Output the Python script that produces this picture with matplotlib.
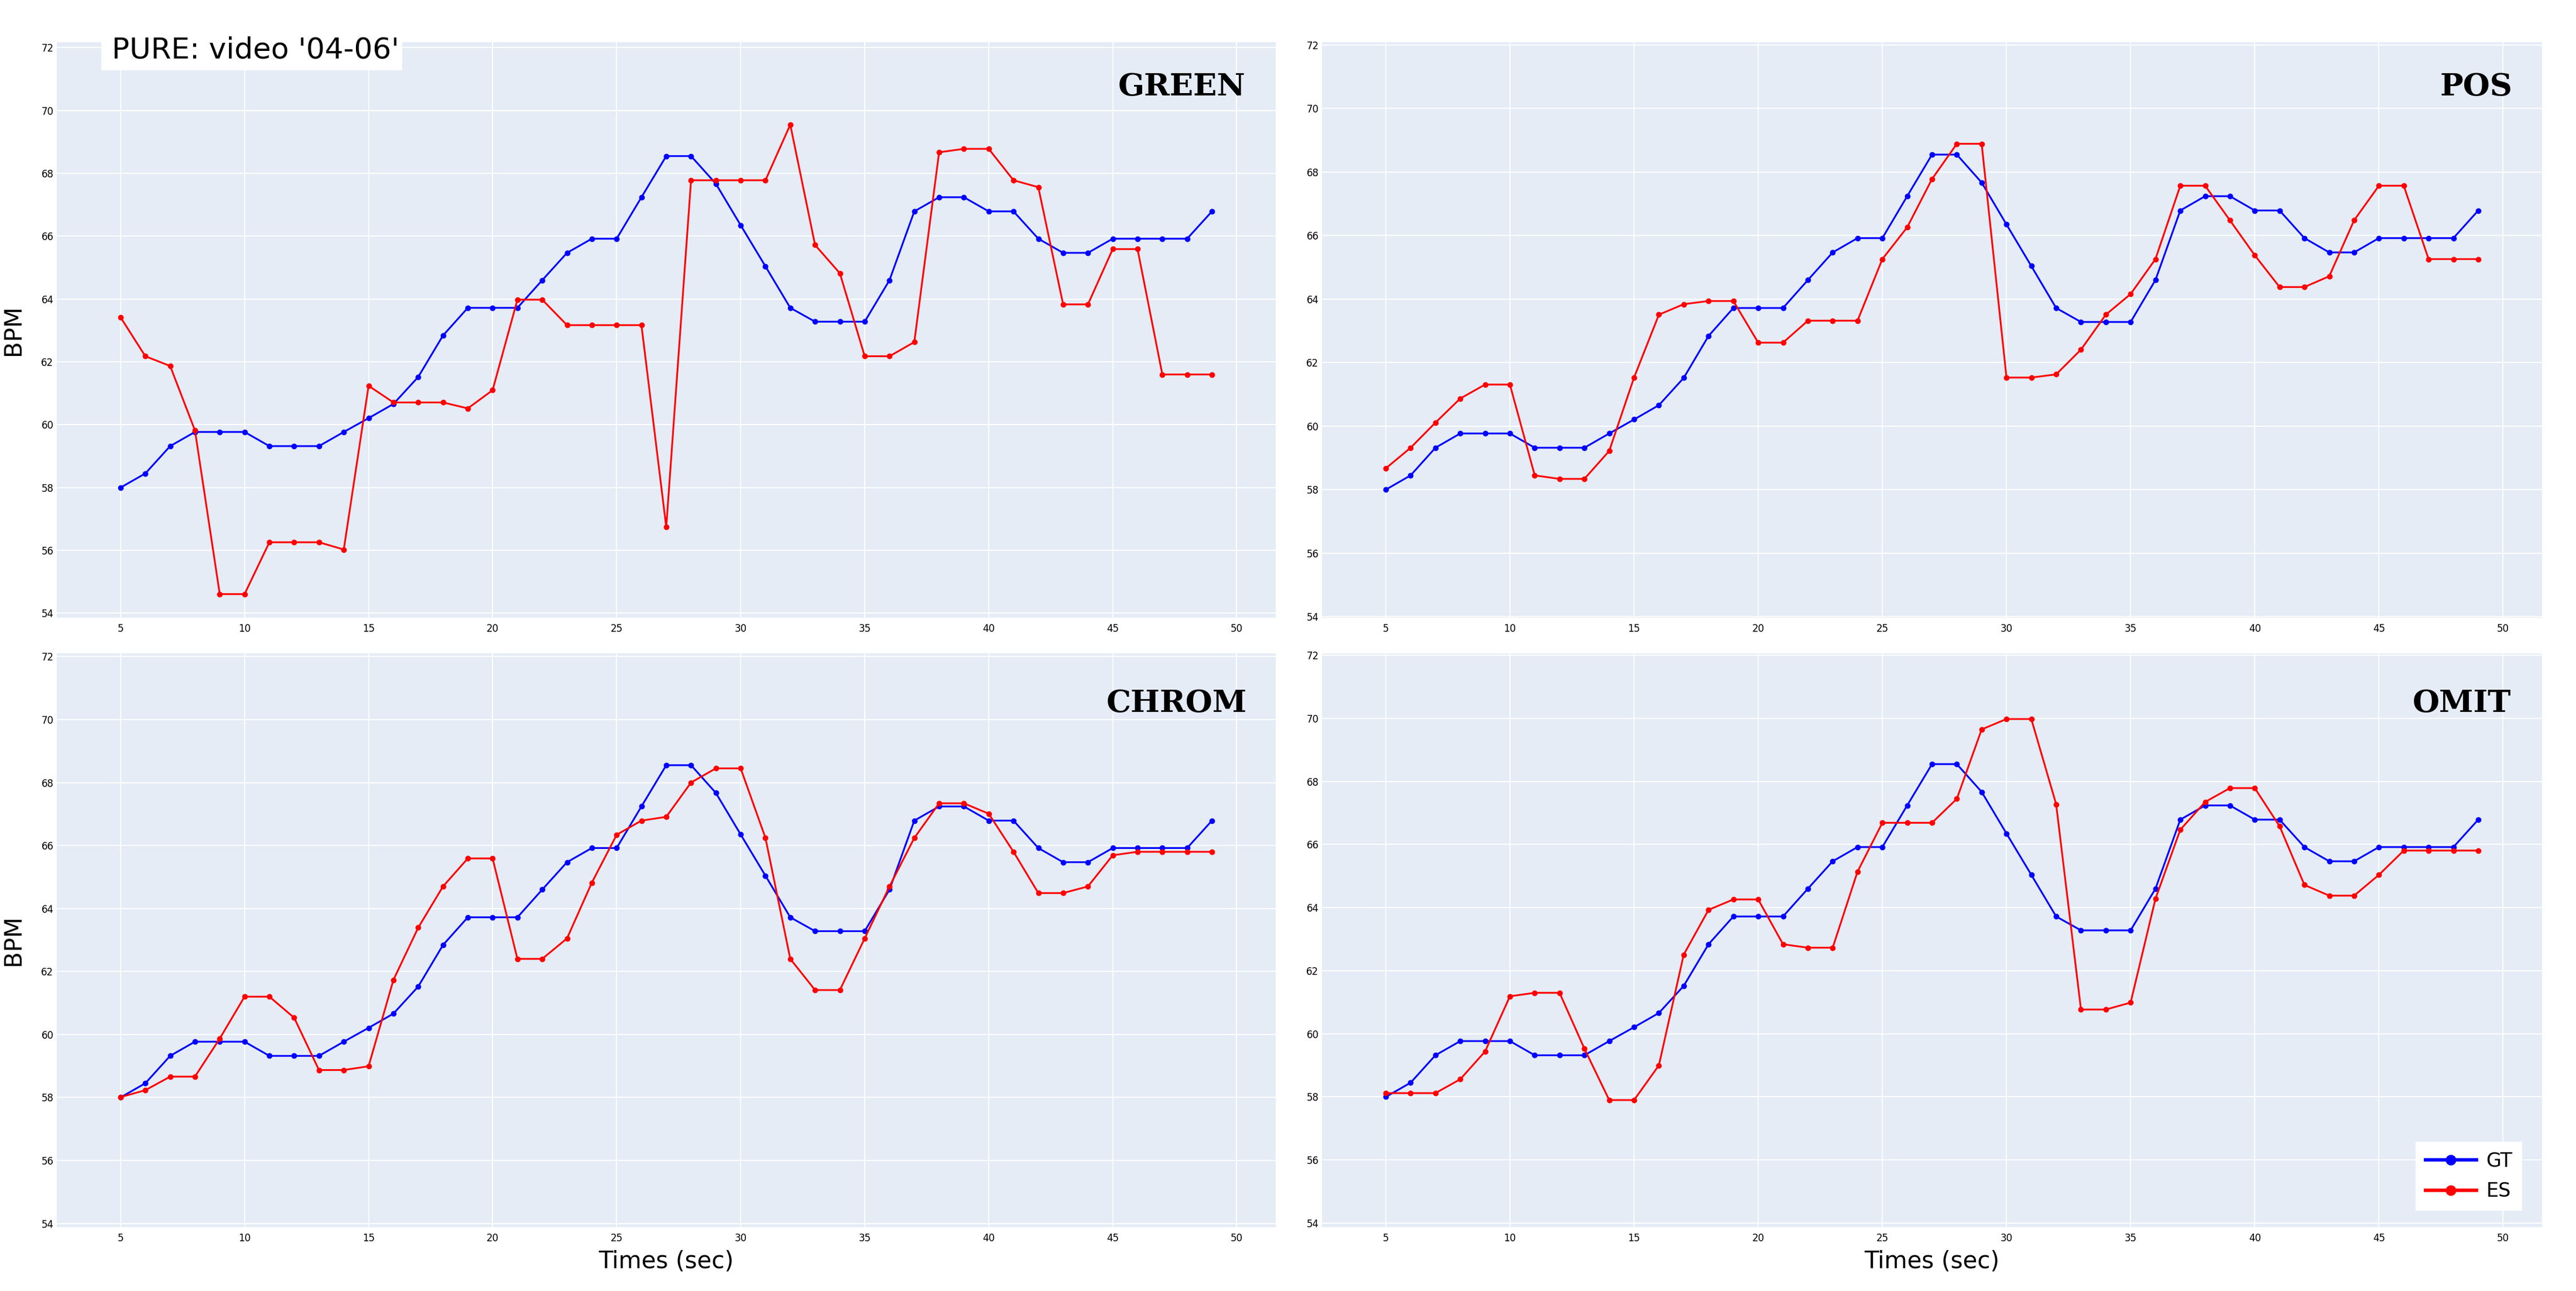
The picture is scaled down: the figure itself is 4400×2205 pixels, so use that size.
import matplotlib
matplotlib.use("Agg")
import matplotlib.pyplot as plt
from matplotlib.lines import Line2D
from matplotlib.patches import Rectangle

times = list(range(5, 50))

gt = [58.0, 58.45, 59.32, 59.77, 59.77, 59.77, 59.32, 59.32, 59.32, 59.77,
      60.21, 60.66, 61.52, 62.84, 63.72, 63.72, 63.72, 64.60, 65.47, 65.92,
      65.92, 67.24, 68.55, 68.55, 67.67, 66.35, 65.04, 63.72, 63.28, 63.28,
      63.28, 64.60, 66.79, 67.24, 67.24, 66.79, 66.79, 65.92, 65.47, 65.47,
      65.92, 65.92, 65.92, 65.92, 66.79]

es_green = [63.42, 62.18, 61.87, 59.82, 54.61, 54.61, 56.26, 56.26, 56.26, 56.03,
            61.24, 60.71, 60.71, 60.71, 60.52, 61.10, 63.98, 63.98, 63.17, 63.17,
            63.17, 63.17, 56.74, 67.78, 67.78, 67.78, 67.78, 69.55, 65.72, 64.82,
            62.18, 62.18, 62.63, 68.67, 68.78, 68.78, 67.78, 67.56, 63.83, 63.83,
            65.59, 65.59, 61.60, 61.60, 61.60]

es_pos = [58.67, 59.32, 60.11, 60.87, 61.31, 61.31, 58.45, 58.34, 58.34, 59.22,
          61.53, 63.51, 63.84, 63.94, 63.94, 62.63, 62.63, 63.32, 63.32, 63.32,
          65.26, 66.26, 67.78, 68.89, 68.89, 61.53, 61.53, 61.63, 62.41, 63.51,
          64.16, 65.26, 67.57, 67.57, 66.48, 65.38, 64.38, 64.38, 64.72, 66.48,
          67.57, 67.57, 65.26, 65.26, 65.26]

es_chrom = [58.01, 58.23, 58.66, 58.66, 59.87, 61.20, 61.20, 60.53, 58.87, 58.87,
            58.99, 61.73, 63.39, 64.70, 65.59, 65.59, 62.40, 62.40, 63.05, 64.82,
            66.34, 66.79, 66.91, 68.00, 68.45, 68.45, 66.24, 62.40, 61.41, 61.41,
            63.05, 64.70, 66.24, 67.34, 67.34, 67.01, 65.80, 64.49, 64.49, 64.70,
            65.69, 65.80, 65.80, 65.80, 65.80]

es_omit = [58.12, 58.12, 58.12, 58.56, 59.44, 61.19, 61.30, 61.30, 59.53, 57.90,
           57.90, 59.00, 62.51, 63.93, 64.26, 64.26, 62.84, 62.73, 62.73, 65.14,
           66.69, 66.69, 66.69, 67.45, 69.65, 69.98, 69.98, 67.28, 60.77, 60.77,
           60.99, 64.28, 66.47, 67.35, 67.79, 67.79, 66.58, 64.72, 64.38, 64.38,
           65.04, 65.81, 65.81, 65.81, 65.81]

methods = ["GREEN", "POS", "CHROM", "OMIT"]
estimates = [es_green, es_pos, es_chrom, es_omit]
x_ticks = [5, 10, 15, 20, 25, 30, 35, 40, 45, 50]
y_ticks = [54, 56, 58, 60, 62, 64, 66, 68, 70, 72]
title_text = "PURE: video '04-06'"

W, H = 4400, 2205
fig = plt.figure(figsize=(W / 100, H / 100), dpi=100)
fig.patch.set_facecolor("white")

# axes boxes in pixel coords (left, right, top, bottom)
boxes = [(97, 2179, 72, 1055), (2258, 4342, 72, 1055),
         (97, 2179, 1116, 2096), (2258, 4342, 1116, 2096)]
yranges = [(53.86, 72.175), (53.97, 72.09), (53.88, 72.10), (53.87, 72.06)]
label_pos = [(0.9755, 0.9074), (0.9755, 0.9074), (0.9765, 0.898), (0.9746, 0.898)]

BG = "#E5ECF6"
axes = []
for i, (l, r, t, b) in enumerate(boxes):
    ax = fig.add_axes([l / W, 1 - b / H, (r - l) / W, (b - t) / H])
    ax.set_facecolor(BG)
    for s in ax.spines.values():
        s.set_visible(False)
    ax.set_xlim(2.43, 51.57)
    ax.set_ylim(*yranges[i])
    ax.set_xticks(x_ticks)
    ax.set_yticks(y_ticks)
    ax.grid(True, color="white", linewidth=1.4)
    ax.set_axisbelow(True)
    ax.tick_params(length=0, labelsize=12, pad=7, colors="black")
    ax.tick_params(axis="y", pad=4)
    ax.plot(times, gt, color="#0000FF", lw=2.2, marker="o", ms=6, zorder=3)
    ax.plot(times, estimates[i], color="#FF0000", lw=2.2, marker="o", ms=6, zorder=3)
    fx, fy = label_pos[i]
    ax.text(fx, fy, methods[i], transform=ax.transAxes, ha="right", va="baseline",
            fontsize=38, fontweight="bold", family="DejaVu Serif", zorder=5)
    axes.append(ax)

axes[0].set_ylabel("BPM", fontsize=29, labelpad=20)
axes[2].set_ylabel("BPM", fontsize=29, labelpad=20)
axes[2].set_xlabel("Times (sec)", fontsize=29, labelpad=8)
axes[3].set_xlabel("Times (sec)", fontsize=29, labelpad=8)

# title box
fig.patches.append(Rectangle((173 / W, 1 - 120 / H), (687 - 173) / W, 100 / H,
                             transform=fig.transFigure, facecolor="white",
                             edgecolor="none", zorder=10))
fig.text(191 / W, 1 - 99 / H, title_text, fontsize=36, ha="left", va="baseline",
         zorder=11)

handles = [Line2D([], [], color="#0000FF", lw=4.2, marker="o", ms=12),
           Line2D([], [], color="#FF0000", lw=4.2, marker="o", ms=12)]
leg = axes[3].legend(handles, ["GT", "ES"], loc="lower right",
                     bbox_to_anchor=(4308 / W, 1 - 2068 / H),
                     bbox_transform=fig.transFigure, fontsize=24,
                     frameon=True, fancybox=False, framealpha=1,
                     handlelength=2.6, handletextpad=0.5, labelspacing=0.55,
                     borderpad=0.5, borderaxespad=0)
leg.get_frame().set_facecolor("white")
leg.get_frame().set_edgecolor("none")

fig.savefig("out.png", dpi=100)
